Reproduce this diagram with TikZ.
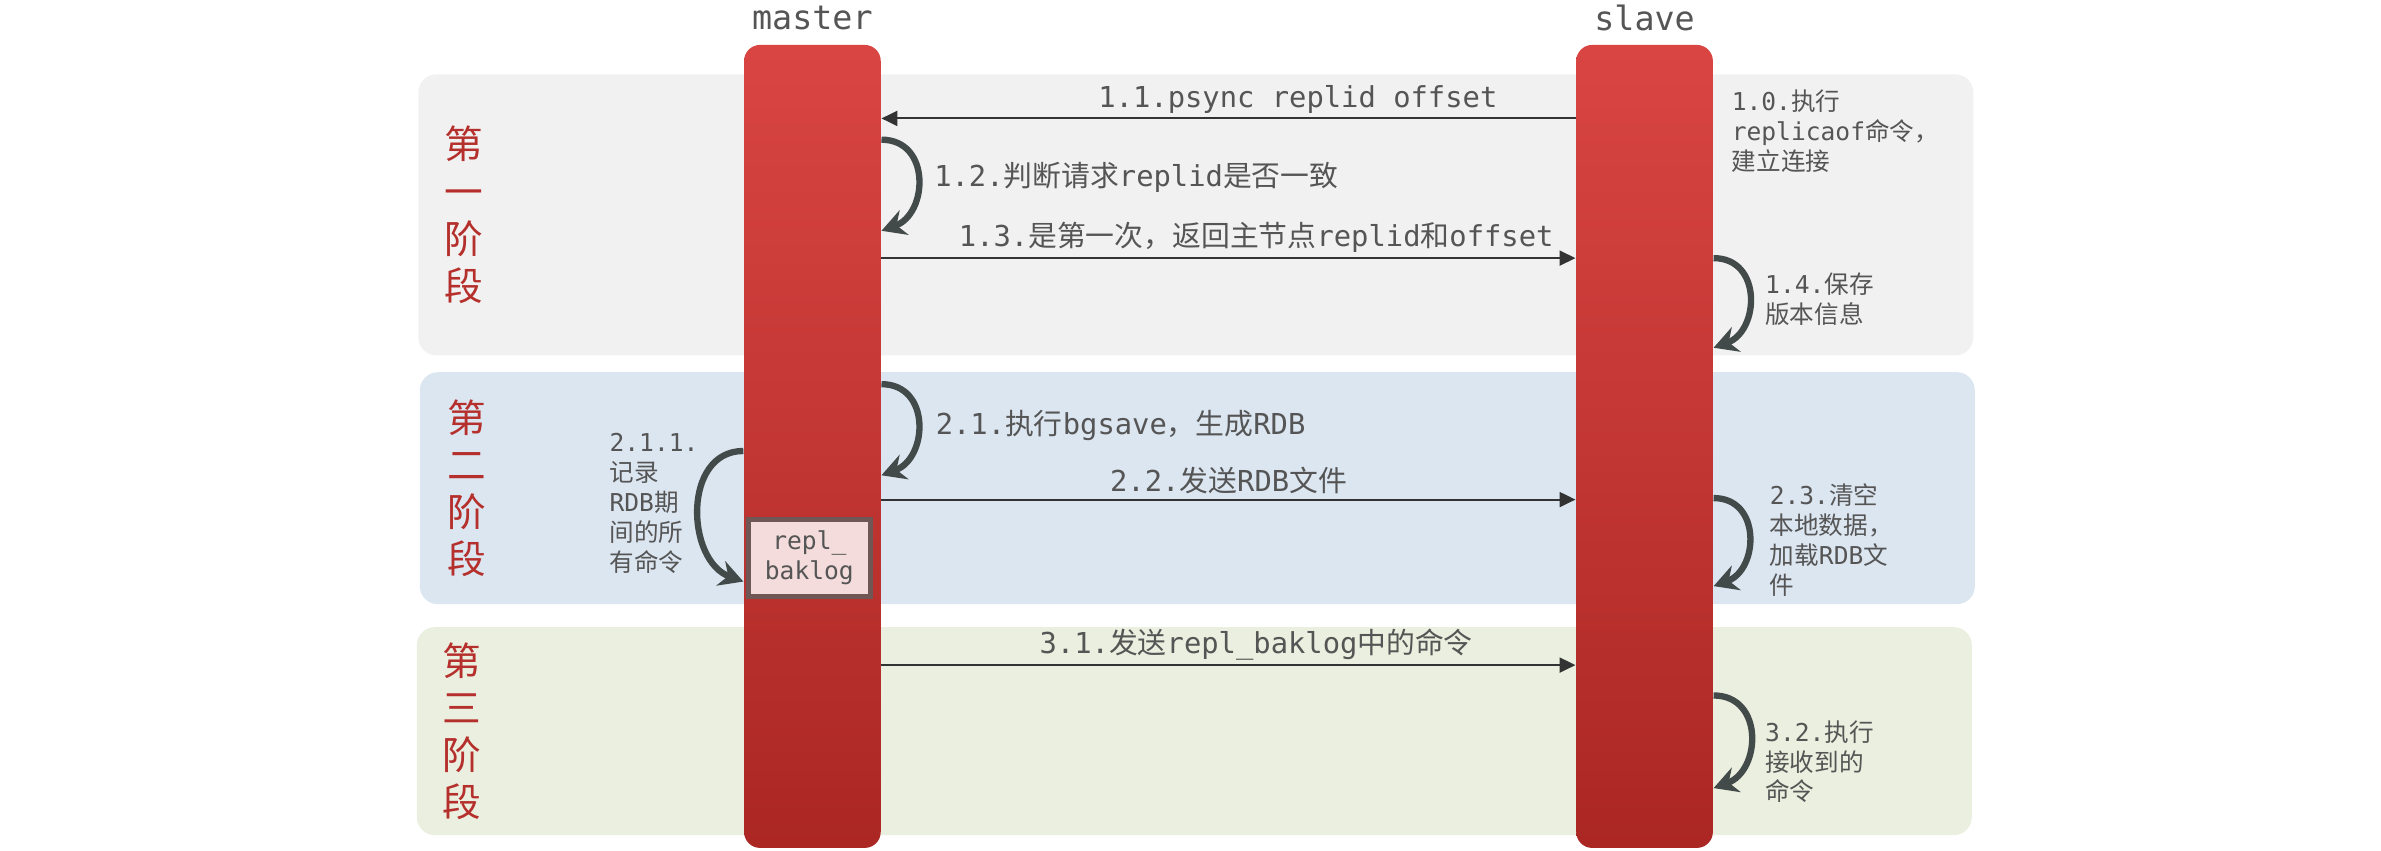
\documentclass[tikz,border=0pt]{standalone}
\usepackage{fontspec}
\setmainfont{DejaVu Sans Mono}
\newfontfamily\cjk{Noto Sans CJK SC}
\newcommand{\zhs}[1]{{\cjk #1}}
\usetikzlibrary{arrows.meta, positioning}
\definecolor{barTop}{HTML}{D94542}
\definecolor{barBottom}{HTML}{AB2724}
\definecolor{phaseGray}{HTML}{F1F1F1}
\definecolor{phaseBlue}{HTML}{DCE6F1}
\definecolor{phaseGreen}{HTML}{EBEFDF}
\definecolor{phaseRed}{HTML}{B5302C}
\definecolor{textGray}{HTML}{555555}
\definecolor{loopGray}{HTML}{434B4A}
\definecolor{bakFill}{HTML}{F3DCDB}
\definecolor{bakEdge}{HTML}{6F5756}
\tikzset{
  phasebox/.style={rounded corners=1.8mm, minimum width=155.5mm, inner sep=0pt},
  phaselbl/.style={font=\cjk\fontsize{11}{13.4}\selectfont, text=phaseRed, align=center, inner sep=0pt},
  lifebar/.style={rounded corners=1.6mm, top color=barTop, bottom color=barBottom, minimum width=13.67mm, minimum height=80.3mm, inner sep=0pt},
  rolelbl/.style={font=\fontsize{9.5}{11}\selectfont, text=textGray, inner sep=0pt},
  msgarr/.style={-{Triangle[length=1.6mm, width=1.5mm]}, draw=black!80, line width=0.6pt},
  msglbl/.style={font=\fontsize{8.2}{10}\selectfont, text=textGray, inner sep=1.2pt},
  looparr/.style={-{Stealth[length=2.4mm, width=2.6mm, inset=0.8mm]}, draw=loopGray, line width=1.8pt},
  sidelbl/.style={font=\fontsize{7}{8.5}\selectfont, text=textGray, align=left, inner sep=0pt, anchor=north west},
  bakbox/.style={fill=bakFill, draw=bakEdge, line width=1.4pt, minimum width=12.15mm, minimum height=7.74mm, align=center, inner sep=0pt, font=\fontsize{7}{8.5}\selectfont, text=textGray},
}
\begin{document}
\begin{tikzpicture}[x=0.15185mm, y=-0.15185mm]
  \useasboundingbox (0,0) rectangle (1568,560);
  % phases
  \node[phasebox, fill=phaseGray, minimum height=28.1mm] (ph1) at (787.5,141.5) {};
  \node[phasebox, fill=phaseBlue, minimum height=23.2mm] (ph2) at (788.5,321.5) {};
  \node[phasebox, fill=phaseGreen, minimum height=20.8mm] (ph3) at (786.5,481.5) {};
  \node[phaselbl, right=2.6mm of ph1.west] (ph1lbl) {第\\一\\阶\\段};
  \node[phaselbl, right=2.8mm of ph2.west] (ph2lbl) {第\\二\\阶\\段};
  \node[phaselbl, right=2.6mm of ph3.west] (ph3lbl) {第\\三\\阶\\段};
  % lifelines
  \node[lifebar] (master) at (535,294) {};
  \node[lifebar] (slave) at (1083,294) {};
  \node[rolelbl, above=1.4mm of master] (masterlbl) {master};
  \node[rolelbl, above=1.3mm of slave] (slavelbl) {slave};
  \node[bakbox] (bak) at (533,367.5) {repl\_\\baklog};
  % messages
  \draw[msgarr] (slave.west |- 0,78) -- node[msglbl, above, pos=.4] {1.1.psync replid offset} (master.east |- 0,78);
  \draw[msgarr] (master.east |- 0,170) -- node[msglbl, above, pos=.54] {1.3.\zhs{是第一次，返回主节点}replid\zhs{和}offset} (slave.west |- 0,170);
  \draw[msgarr] (master.east |- 0,329) -- node[msglbl, above, pos=.5] {2.2.\zhs{发送}RDB\zhs{文件}} (slave.west |- 0,329);
  \draw[msgarr] (master.east |- 0,438) -- node[msglbl, above, pos=.54] {3.1.\zhs{发送}repl\_baklog\zhs{中的命令}} (slave.west |- 0,438);
  % self loops
  \draw[looparr] (master.east |- 0,92) to[out=0, in=20, looseness=1.4] (master.east |- 0,152);
  \draw[looparr] (slave.east |- 0,170) to[out=0, in=20, looseness=1.4] (slave.east |- 0,229);
  \draw[looparr] (master.east |- 0,253) to[out=0, in=20, looseness=1.4] (master.east |- 0,313);
  \draw[looparr] (master.west |- 0,297) to[out=180, in=160, looseness=1.2] (master.west |- 0,383);
  \draw[looparr] (slave.east |- 0,328) to[out=0, in=20, looseness=1.4] (slave.east |- 0,386);
  \draw[looparr] (slave.east |- 0,458) to[out=0, in=20, looseness=1.4] (slave.east |- 0,519);
  % notes
  \node[msglbl, anchor=west] (l12) at (612,117) {1.2.\zhs{判断请求}replid\zhs{是否一致}};
  \node[msglbl, anchor=west] (l21) at (613,280) {2.1.\zhs{执行}bgsave\zhs{，生成}RDB};
  \node[sidelbl] (l10) at (1140,59) {1.0.\zhs{执行}\\replicaof\zhs{命令，}\\\zhs{建立连接}};
  \node[sidelbl] (l14) at (1162,179) {1.4.\zhs{保存}\\\zhs{版本信息}};
  \node[sidelbl] (l211) at (401,285) {2.1.1.\\\zhs{记录}\\RDB\zhs{期}\\\zhs{间的所}\\\zhs{有命令}};
  \node[sidelbl] (l23) at (1165,318) {2.3.\zhs{清空}\\\zhs{本地数据，}\\\zhs{加载}RDB\zhs{文}\\\zhs{件}};
  \node[sidelbl] (l32) at (1162,474) {3.2.\zhs{执行}\\\zhs{接收到的}\\\zhs{命令}};
\end{tikzpicture}
\end{document}
